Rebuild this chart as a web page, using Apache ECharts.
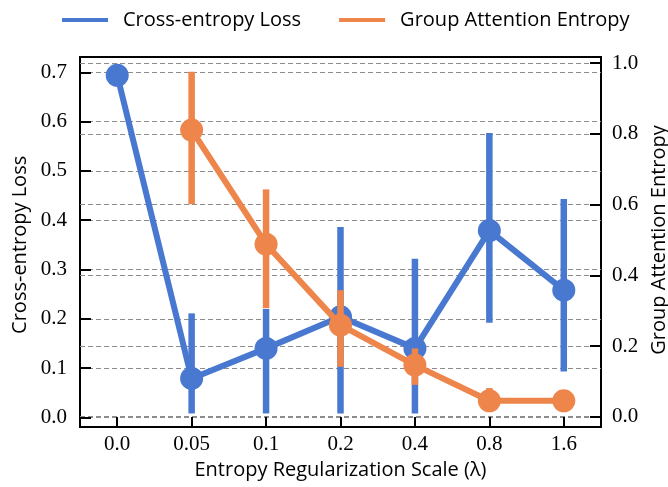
<!DOCTYPE html>
<html>
<head>
<meta charset="utf-8">
<script src="https://cdn.jsdelivr.net/npm/echarts@6/dist/echarts.min.js"></script>
<style>
html,body{margin:0;padding:0;background:#fff;}
#chart{width:668px;height:487px;}
</style>
</head>
<body>
<div id="chart"></div>
<script>
// ---- data ----
const categories = ['0.0', '0.05', '0.1', '0.2', '0.4', '0.8', '1.6'];
const lossValues = [0.694, 0.079, 0.140, 0.204, 0.140, 0.379, 0.258];
const lossLow    = [0.694, 0.008, 0.008, 0.008, 0.008, 0.192, 0.093];
const lossHigh   = [0.694, 0.211, 0.220, 0.386, 0.322, 0.577, 0.443];
const entValues  = [null, 0.811, 0.488, 0.259, 0.146, 0.045, 0.045];
const entLow     = [null, 0.601, 0.307, 0.141, 0.090, 0.035, 0.045];
const entHigh    = [null, 0.976, 0.643, 0.358, 0.193, 0.081, 0.045];
const leftTicks  = {min: 0, max: 0.7, interval: 0.1};
const rightTicks = {min: 0, max: 1.0, interval: 0.2};

const BLUE = '#4878d0', ORANGE = '#ee854a';
const SANS = 'Open Sans', SERIF = 'Liberation Serif';
const W = 668, H = 487;
// layout (pixels)
const plotL = 80, plotR = 601, plotT = 57, plotB = 427;
const leftZeroY = 417.4, leftTopY = 72.3;   // y of 0.0 and 0.7 on left axis
const rightZeroY = 416.7, rightTopY = 63.2; // y of 0.0 and 1.0 on right axis

const chart = echarts.init(document.getElementById('chart'), null, {renderer: 'canvas'});

const gridLine = {show: true, lineStyle: {color: '#8c8c8c', width: 1.2, type: [5, 3]}};
const hiddenX = (gi) => ({
  type: 'category', gridIndex: gi, data: categories, boundaryGap: true,
  show: false
});

function errItem(color) {
  return function (params, api) {
    const x = api.value(0);
    const a = api.coord([x, api.value(1)]);
    const b = api.coord([x, api.value(2)]);
    return {type: 'line', shape: {x1: a[0], y1: a[1], x2: b[0], y2: b[1]},
            style: {stroke: color, lineWidth: 6.5}};
  };
}
const lossErr = categories.map((c, i) => [i, lossLow[i], lossHigh[i]]);
const entErr = categories.map((c, i) => entValues[i] == null ? null : [i, entLow[i], entHigh[i]]).filter(d => d);

chart.setOption({
  animation: false,
  backgroundColor: '#fff',
  legend: {
    data: ['Cross-entropy Loss', 'Group Attention Entropy'],
    left: 57, top: 5,
    icon: 'rect', itemWidth: 46, itemHeight: 4, itemGap: 38,
    textStyle: {fontFamily: SANS, fontSize: 20, color: '#000', padding: [0, 0, 0, 10]}
  },
  grid: [
    {left: plotL, right: W - plotR, top: plotT, bottom: H - plotB, show: true,
     borderColor: '#000', borderWidth: 2, backgroundColor: 'transparent',
     containLabel: false, outerBoundsMode: 'none'},
    {left: plotL, right: W - plotR, top: leftTopY, bottom: H - leftZeroY,
     containLabel: false, outerBoundsMode: 'none'},
    {left: plotL, right: W - plotR, top: rightTopY, bottom: H - rightZeroY,
     containLabel: false, outerBoundsMode: 'none'}
  ],
  xAxis: [
    {type: 'category', gridIndex: 0, data: categories, boundaryGap: true,
     name: 'Entropy Regularization Scale (\u03bb)', nameLocation: 'middle', nameGap: 33,
     nameTextStyle: {fontFamily: SANS, fontSize: 20, color: '#000'},
     axisLine: {show: true, lineStyle: {color: '#000', width: 2}},
     axisTick: {show: true, inside: true, alignWithLabel: true, length: 10, lineStyle: {color: '#000', width: 2}},
     axisLabel: {fontFamily: SERIF, fontSize: 21, color: '#000', margin: 7},
     splitLine: {show: false}},
    hiddenX(1), hiddenX(2)
  ],
  yAxis: [
    {type: 'value', gridIndex: 0, show: false, min: 0, max: 1},
    {type: 'value', gridIndex: 1, position: 'left',
     min: leftTicks.min, max: leftTicks.max, interval: leftTicks.interval,
     name: 'Cross-entropy Loss', nameLocation: 'middle', nameGap: 49, nameRotate: 90,
     nameTextStyle: {fontFamily: SANS, fontSize: 20, color: '#000'},
     axisLine: {show: false},
     axisTick: {show: true, inside: true, length: 11, lineStyle: {color: '#000', width: 2}},
     axisLabel: {fontFamily: SERIF, fontSize: 21, color: '#000', margin: 13,
                 formatter: v => v.toFixed(1)},
     splitLine: gridLine},
    {type: 'value', gridIndex: 2, position: 'right',
     min: rightTicks.min, max: rightTicks.max, interval: rightTicks.interval,
     name: 'Group Attention Entropy', nameLocation: 'middle', nameGap: 45, nameRotate: 90,
     nameTextStyle: {fontFamily: SANS, fontSize: 20, color: '#000'},
     axisLine: {show: false},
     axisTick: {show: true, inside: true, length: 11, lineStyle: {color: '#000', width: 2}},
     axisLabel: {fontFamily: SERIF, fontSize: 21, color: '#000', margin: 11,
                 formatter: v => v.toFixed(1)},
     splitLine: gridLine}
  ],
  series: [
    {type: 'custom', name: 'lossErr', xAxisIndex: 1, yAxisIndex: 1, z: 2,
     renderItem: errItem(BLUE), data: lossErr, silent: true},
    {type: 'line', name: 'Cross-entropy Loss', xAxisIndex: 1, yAxisIndex: 1, z: 3,
     data: lossValues, symbol: 'circle', symbolSize: 23, showSymbol: true, clip: false,
     color: BLUE, lineStyle: {color: BLUE, width: 6}, itemStyle: {color: BLUE}},
    {type: 'custom', name: 'entErr', xAxisIndex: 2, yAxisIndex: 2, z: 4,
     renderItem: errItem(ORANGE), data: entErr, silent: true},
    {type: 'line', name: 'Group Attention Entropy', xAxisIndex: 2, yAxisIndex: 2, z: 5,
     data: entValues, symbol: 'circle', symbolSize: 23, showSymbol: true, clip: false,
     color: ORANGE, lineStyle: {color: ORANGE, width: 6}, itemStyle: {color: ORANGE}}
  ]
});
</script>
</body>
</html>
